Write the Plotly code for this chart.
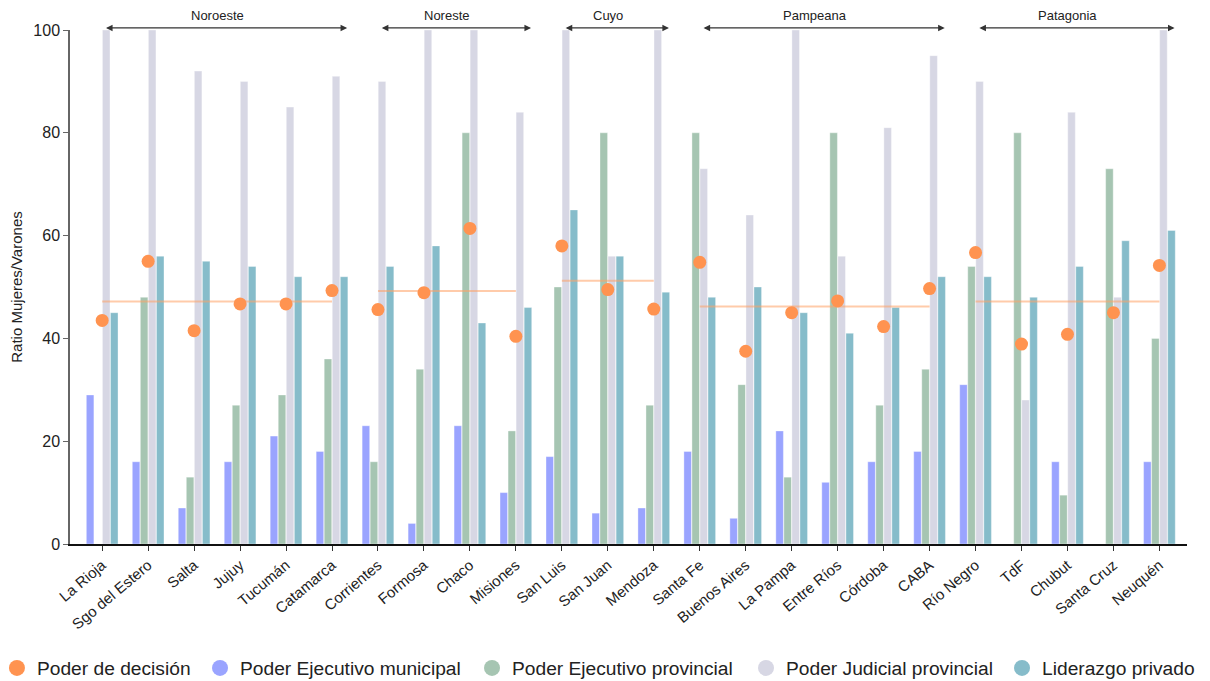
import plotly.graph_objects as go

provincias = ["La Rioja", "Sgo del Estero", "Salta", "Jujuy", "Tucumán", "Catamarca",
              "Corrientes", "Formosa", "Chaco", "Misiones",
              "San Luis", "San Juan", "Mendoza",
              "Santa Fe", "Buenos Aires", "La Pampa", "Entre Ríos", "Córdoba", "CABA",
              "Río Negro", "TdF", "Chubut", "Santa Cruz", "Neuquén"]

poder_decision = [43.5, 55.0, 41.5, 46.7, 46.7, 49.3,
                  45.6, 48.9, 61.4, 40.4,
                  58.0, 49.5, 45.7,
                  54.8, 37.5, 45.0, 47.3, 42.3, 49.7,
                  56.7, 38.9, 40.8, 45.0, 54.2]

ejecutivo_municipal = [29, 16, 7, 16, 21, 18,
                       23, 4, 23, 10,
                       17, 6, 7,
                       18, 5, 22, 12, 16, 18,
                       31, None, 16, None, 16]

ejecutivo_provincial = [None, 48, 13, 27, 29, 36,
                        16, 34, 80, 22,
                        50, 80, 27,
                        80, 31, 13, 80, 27, 34,
                        54, 80, 9.5, 73, 40]

judicial_provincial = [100, 100, 92, 90, 85, 91,
                       90, 100, 100, 84,
                       100, 56, 100,
                       73, 64, 100, 56, 81, 95,
                       90, 28, 84, 48, 100]

liderazgo_privado = [45, 56, 55, 54, 52, 52,
                     54, 58, 43, 46,
                     65, 56, 49,
                     48, 50, 45, 41, 46, 52,
                     52, 48, 54, 59, 61]

regiones = ["Noroeste", "Noreste", "Cuyo", "Pampeana", "Patagonia"]
region_primera = ["La Rioja", "Corrientes", "San Luis", "Santa Fe", "Río Negro"]
region_ultima = ["Catamarca", "Misiones", "Mendoza", "CABA", "Neuquén"]
region_promedio = [47.2, 49.2, 51.2, 46.2, 47.2]

y_ticks = [0, 20, 40, 60, 80, 100]

FONT = "Liberation Sans"
c_dec = "#FF9350"
c_mun = "#9AA4FF"
c_prov = "#A6C5B2"
c_jud = "#D7D7E4"
c_priv = "#86BCCA"

fig = go.Figure()

series = [
    ("Poder Ejecutivo municipal", ejecutivo_municipal, c_mun),
    ("Poder Ejecutivo provincial", ejecutivo_provincial, c_prov),
    ("Poder Judicial provincial", judicial_provincial, c_jud),
    ("Liderazgo privado", liderazgo_privado, c_priv),
]
for name, vals, col in series:
    fig.add_trace(go.Bar(x=provincias, y=vals, name=name, marker_color=col,
                         marker_line=dict(color="rgba(255,255,255,0.6)", width=0.6),
                         showlegend=False))

# region mean lines
for reg, a, b, m in zip(regiones, region_primera, region_ultima, region_promedio):
    fig.add_trace(go.Scatter(x=[a, b], y=[m, m], mode="lines",
                             line=dict(color="rgba(255,160,100,0.55)", width=2),
                             showlegend=False, hoverinfo="skip"))

fig.add_trace(go.Scatter(x=provincias, y=poder_decision, mode="markers",
                         marker=dict(color=c_dec, size=13), name="Poder de decisión",
                         showlegend=False))

# legend entries (circle symbols), one legend per entry to control spacing
legend_items = [("Poder de decisión", c_dec), ("Poder Ejecutivo municipal", c_mun),
                ("Poder Ejecutivo provincial", c_prov), ("Poder Judicial provincial", c_jud),
                ("Liderazgo privado", c_priv)]
legend_x = [-0.0654, 0.1164, 0.3599, 0.6052, 0.8344]
legend_ids = ["legend", "legend2", "legend3", "legend4", "legend5"]
for (name, col), lid in zip(legend_items, legend_ids):
    fig.add_trace(go.Scatter(x=[None], y=[None], mode="markers", name=name,
                             marker=dict(color=col, size=17), legend=lid))

legend_layout = {}
for lid, lx in zip(legend_ids, legend_x):
    legend_layout[lid] = dict(orientation="h", x=lx, xanchor="left", y=-0.2412,
                              yanchor="middle", bgcolor="rgba(0,0,0,0)",
                              font=dict(family=FONT, size=19.2, color="#222222"),
                              itemsizing="trace")

# region arrows and labels
for reg, a, b in zip(regiones, region_primera, region_ultima):
    i0 = provincias.index(a)
    i1 = provincias.index(b)
    fig.add_annotation(x=i1 + 0.33, y=1.004, ax=i0 + 0.05, ay=0,
                       xref="x", yref="paper", axref="x", ayref="pixel",
                       text="", showarrow=True, arrowhead=2, arrowside="end+start",
                       arrowsize=1.1, arrowwidth=1.2, arrowcolor="#333333")
    fig.add_annotation(x=(i0 + i1) / 2, y=1.004, xref="x", yref="paper", text=reg,
                       showarrow=False, yanchor="middle", yshift=12, borderpad=0,
                       font=dict(family=FONT, size=13, color="#222222"))

fig.update_layout(
    width=1210, height=681,
    margin=dict(l=62, r=31, t=22, b=145, autoexpand=False),
    plot_bgcolor="white", paper_bgcolor="white",
    barmode="group", bargap=0.3, bargroupgap=0.06,
    font=dict(family=FONT, size=14, color="#222222"),
    **legend_layout,
)
fig.update_xaxes(range=[-0.7, 23.6], tickangle=-40, showline=True, linecolor="#111111",
                 linewidth=1.5, ticks="outside", ticklen=5, tickcolor="#333333",
                 tickfont=dict(family=FONT, size=15, color="#222222"), showgrid=False,
                 automargin=False)
fig.update_yaxes(range=[0, 100], tickvals=y_ticks, showline=True, linecolor="#666666",
                 linewidth=1.5, ticks="outside", ticklen=5, tickcolor="#666666",
                 showgrid=False, zeroline=False, automargin=False,
                 title=dict(text="Ratio Mujeres/Varones", font=dict(family=FONT, size=15)),
                 tickfont=dict(family=FONT, size=16, color="#222222"))

fig.write_html("out.html")
